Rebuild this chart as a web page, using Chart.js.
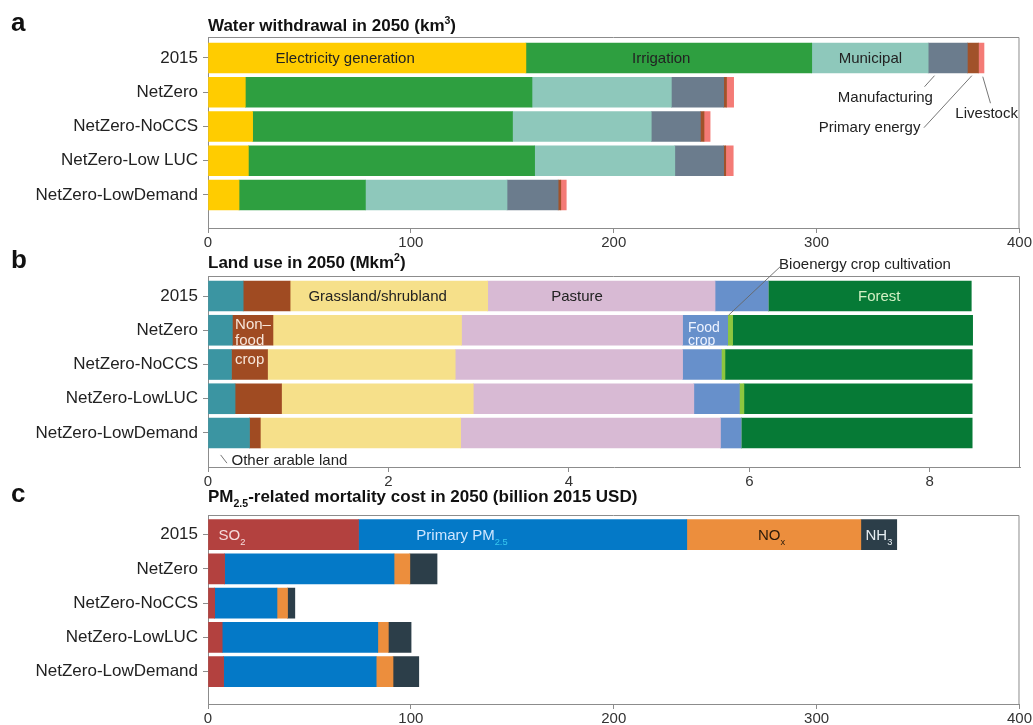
<!DOCTYPE html>
<html>
<head>
<meta charset="utf-8">
<script src="https://cdn.jsdelivr.net/npm/chart.js@4.4.1/dist/chart.umd.min.js"></script>
<style>
  body { margin: 0; background: #fff; width: 1033px; height: 725px; position: relative; overflow: hidden; }
  canvas { position: absolute; left: 0; }
</style>
</head>
<body>
<canvas id="waterChart" width="1033" height="250" style="top:0px"></canvas>
<canvas id="landChart" width="1033" height="250" style="top:250px"></canvas>
<canvas id="healthChart" width="1033" height="245" style="top:480px"></canvas>
<script>
// panel a - water withdrawal (km3)
const waterScenarios = ['2015', 'NetZero', 'NetZero-NoCCS', 'NetZero-Low LUC', 'NetZero-LowDemand'];
const waterElectricity = [156.7, 18.4, 22.0, 19.9, 15.3];
const waterIrrigation = [140.9, 141.3, 128.1, 141.1, 62.3];
const waterMunicipal = [57.4, 68.7, 68.4, 69.1, 69.8];
const waterManufacturing = [19.3, 25.8, 24.2, 24.1, 25.2];
const waterPrimaryEnergy = [5.5, 1.4, 1.8, 1.0, 1.3];
const waterLivestock = [2.7, 3.5, 3.0, 3.7, 2.7];
const waterTicks = [0, 100, 200, 300, 400];

// panel b - land use (Mkm2)
const landScenarios = ['2015', 'NetZero', 'NetZero-NoCCS', 'NetZero-LowLUC', 'NetZero-LowDemand'];
const landOtherArable = [0.39, 0.27, 0.26, 0.30, 0.46];
const landNonFoodCrop = [0.52, 0.45, 0.40, 0.515, 0.12];
const landGrassland = [2.19, 2.09, 2.08, 2.125, 2.22];
const landPasture = [2.52, 2.45, 2.52, 2.445, 2.88];
const landFoodCrop = [0.59, 0.50, 0.43, 0.505, 0.23];
const landBioenergy = [0, 0.055, 0.04, 0.05, 0];
const landForest = [2.25, 2.66, 2.74, 2.53, 2.56];
const landTicks = [0, 2, 4, 6, 8];

// panel c - PM2.5 mortality cost (billion 2015 USD)
const healthScenarios = ['2015', 'NetZero', 'NetZero-NoCCS', 'NetZero-LowLUC', 'NetZero-LowDemand'];
const healthSO2 = [74.2, 8.2, 3.3, 7.0, 7.7];
const healthPrimaryPM = [161.8, 83.5, 30.7, 76.7, 75.2];
const healthNOx = [85.8, 7.8, 5.2, 5.2, 8.3];
const healthNH3 = [17.7, 13.4, 3.6, 11.2, 12.7];
const healthTicks = [0, 100, 200, 300, 400];

const FONT = '"Liberation Sans", Arial, Helvetica, sans-serif';
const AXIS = '#8c8c8c';
Chart.defaults.font.family = FONT;

// draws text made of pieces, some of them sub- or superscript
function drawRich(ctx, parts, x, y, size, weight, color, align) {
  const fnt = p => weight + ' ' + (p.s ? size * 0.62 : size) + 'px ' + FONT;
  let w = 0;
  parts.forEach(p => { ctx.font = fnt(p); w += ctx.measureText(p.t).width; });
  let cx = align === 'center' ? x - w / 2 : (align === 'right' ? x - w : x);
  ctx.textAlign = 'left';
  ctx.textBaseline = 'alphabetic';
  parts.forEach(p => {
    ctx.font = fnt(p);
    ctx.fillStyle = p.c || color;
    const dy = p.s === 'sub' ? size * 0.3 : (p.s === 'sup' ? -size * 0.4 : 0);
    ctx.fillText(p.t, cx, y + dy);
    cx += ctx.measureText(p.t).width;
  });
}

const notesPlugin = {
  id: 'notes',
  afterDraw(chart, args, opts) {
    const ctx = chart.ctx, a = chart.chartArea;
    const xs = chart.scales.x, ys = chart.scales.y;
    ctx.save();
    // top and right side of the frame
    ctx.strokeStyle = AXIS;
    ctx.lineWidth = 1;
    ctx.beginPath();
    ctx.moveTo(a.left, a.top + 0.5);
    ctx.lineTo(a.right - 0.5, a.top + 0.5);
    ctx.lineTo(a.right - 0.5, a.bottom);
    ctx.stroke();
    // leader lines
    (opts.lines || []).forEach(l => {
      ctx.strokeStyle = '#666';
      ctx.lineWidth = 0.9;
      ctx.beginPath();
      ctx.moveTo(xs.getPixelForValue(l[0]), ys.getPixelForValue(l[1]));
      ctx.lineTo(xs.getPixelForValue(l[2]), ys.getPixelForValue(l[3]));
      ctx.stroke();
    });
    // labels
    (opts.labels || []).forEach(n => {
      const size = n.size || 15;
      const px = xs.getPixelForValue(n.x);
      const py = ys.getPixelForValue(n.i) + size * 0.36;
      drawRich(ctx, n.parts, px, py, size, 'normal', n.color || '#222', n.align || 'center');
    });
    // panel letter and title
    drawRich(ctx, [{ t: opts.letter }], 11, opts.titleY, 26, 'bold', '#111', 'left');
    drawRich(ctx, opts.title, a.left, opts.titleY, 17, 'bold', '#111', 'left');
    ctx.restore();
  }
};

function stackedChart(id, scenarios, series, ticks, frame, notes) {
  const datasets = series.map(s => ({
    label: s.label,
    data: s.data.map((v, i) => ({ x: v, y: i })),
    backgroundColor: s.color,
    borderWidth: 0,
    barThickness: 30
  }));
  return new Chart(document.getElementById(id), {
    type: 'bar',
    data: { datasets: datasets },
    options: {
      indexAxis: 'y',
      responsive: false,
      animation: false,
      layout: { padding: { left: 0, right: 13, top: frame.top, bottom: 0 } },
      scales: {
        x: {
          type: 'linear', stacked: true, min: 0, max: ticks[ticks.length - 1] * frame.stretch,
          afterBuildTicks: s => { s.ticks = ticks.map(v => ({ value: v })); },
          afterFit: s => { s.height = frame.axisH; },
          ticks: { color: '#333', font: { size: 15 }, padding: 1, maxRotation: 0 },
          grid: { drawOnChartArea: false, tickLength: 5, color: AXIS },
          border: { color: AXIS }
        },
        y: {
          type: 'linear', stacked: true, reverse: true, offset: false,
          min: frame.yMin, max: frame.yMax,
          afterBuildTicks: s => { s.ticks = scenarios.map((c, i) => ({ value: i })); },
          afterFit: s => { s.width = 208; },
          ticks: { color: '#222', font: { size: 17 }, padding: 5, autoSkip: false, callback: v => scenarios[v] },
          grid: { offset: false, drawOnChartArea: false, tickLength: 5, color: AXIS },
          border: { color: AXIS }
        }
      },
      plugins: {
        legend: { display: false },
        tooltip: { enabled: false },
        notes: notes
      }
    },
    plugins: [notesPlugin]
  });
}

stackedChart('waterChart', waterScenarios, [
  { label: 'Electricity generation', data: waterElectricity, color: '#FFCC00' },
  { label: 'Irrigation', data: waterIrrigation, color: '#2E9F40' },
  { label: 'Municipal', data: waterMunicipal, color: '#8EC8BB' },
  { label: 'Manufacturing', data: waterManufacturing, color: '#6B7C8D' },
  { label: 'Primary energy', data: waterPrimaryEnergy, color: '#A1522A' },
  { label: 'Livestock', data: waterLivestock, color: '#F47B76' }
], waterTicks, { top: 37, axisH: 22, yMin: -0.613, yMax: 4.964, stretch: 1 }, {
  letter: 'a', titleY: 30.5,
  title: [{ t: 'Water withdrawal in 2050 (km' }, { t: '3', s: 'sup' }, { t: ')' }],
  labels: [
    { parts: [{ t: 'Electricity generation' }], x: 67.6, i: 0 },
    { parts: [{ t: 'Irrigation' }], x: 223.4, i: 0 },
    { parts: [{ t: 'Municipal' }], x: 326.5, i: 0 },
    { parts: [{ t: 'Manufacturing' }], x: 333.9, i: 1.14 },
    { parts: [{ t: 'Primary energy' }], x: 326.1, i: 2.0 },
    { parts: [{ t: 'Livestock' }], x: 383.8, i: 1.59 }
  ],
  lines: [
    [358.1, 0.517, 353.2, 0.838],
    [376.5, 0.517, 352.9, 2.035],
    [381.9, 0.546, 385.7, 1.32]
  ]
});

stackedChart('landChart', landScenarios, [
  { label: 'Other arable land', data: landOtherArable, color: '#3B95A2' },
  { label: 'Non-food crop', data: landNonFoodCrop, color: '#A04B22' },
  { label: 'Grassland/shrubland', data: landGrassland, color: '#F6E08A' },
  { label: 'Pasture', data: landPasture, color: '#D8BAD4' },
  { label: 'Food crop', data: landFoodCrop, color: '#6790CB' },
  { label: 'Bioenergy crop cultivation', data: landBioenergy, color: '#8DC63F' },
  { label: 'Forest', data: landForest, color: '#067A36' }
], landTicks, { top: 26, axisH: 33, yMin: -0.584, yMax: 4.993, stretch: 9 / 8 }, {
  letter: 'b', titleY: 18,
  title: [{ t: 'Land use in 2050 (Mkm' }, { t: '2', s: 'sup' }, { t: ')' }],
  labels: [
    { parts: [{ t: 'Grassland/shrubland' }], x: 1.88, i: 0 },
    { parts: [{ t: 'Pasture' }], x: 4.09, i: 0 },
    { parts: [{ t: 'Forest' }], x: 7.44, i: 0, color: '#d3f0c4' },
    { parts: [{ t: 'Non\u2013' }], x: 0.30, i: 0.80, align: 'left', color: '#f7e6da' },
    { parts: [{ t: 'food' }], x: 0.30, i: 1.285, align: 'left', color: '#f7e6da' },
    { parts: [{ t: 'crop' }], x: 0.30, i: 1.82, align: 'left', color: '#f7e6da' },
    { parts: [{ t: 'Food' }], x: 5.32, i: 0.90, align: 'left', color: '#eef3ff', size: 14 },
    { parts: [{ t: 'crop' }], x: 5.32, i: 1.27, align: 'left', color: '#eef3ff', size: 14 },
    { parts: [{ t: 'Bioenergy crop cultivation' }], x: 6.33, i: -0.95, align: 'left' },
    { parts: [{ t: 'Other arable land' }], x: 0.26, i: 4.77, align: 'left' }
  ],
  lines: [
    [6.34, -0.85, 5.77, 0.56],
    [0.14, 4.64, 0.21, 4.88]
  ]
});

stackedChart('healthChart', healthScenarios, [
  { label: 'SO2', data: healthSO2, color: '#B3413F' },
  { label: 'Primary PM2.5', data: healthPrimaryPM, color: '#0479C7' },
  { label: 'NOx', data: healthNOx, color: '#EC8E3D' },
  { label: 'NH3', data: healthNH3, color: '#2C3E49' }
], healthTicks, { top: 35, axisH: 21, yMin: -0.575, yMax: 4.943, stretch: 1 }, {
  letter: 'c', titleY: 21.7,
  title: [{ t: 'PM' }, { t: '2.5', s: 'sub' }, { t: '-related mortality cost in 2050 (billion 2015 USD)' }],
  labels: [
    { parts: [{ t: 'SO' }, { t: '2', s: 'sub' }], x: 11.8, i: 0, color: '#f5dcdc' },
    { parts: [{ t: 'Primary PM' }, { t: '2.5', s: 'sub', c: '#38c8f0' }], x: 125.2, i: 0, color: '#cfe6ff' },
    { parts: [{ t: 'NO' }, { t: 'x', s: 'sub' }], x: 277.8, i: 0, color: '#2a1a0a' },
    { parts: [{ t: 'NH' }, { t: '3', s: 'sub' }], x: 330.7, i: 0, color: '#e6eef2' }
  ]
});
</script>
</body>
</html>
